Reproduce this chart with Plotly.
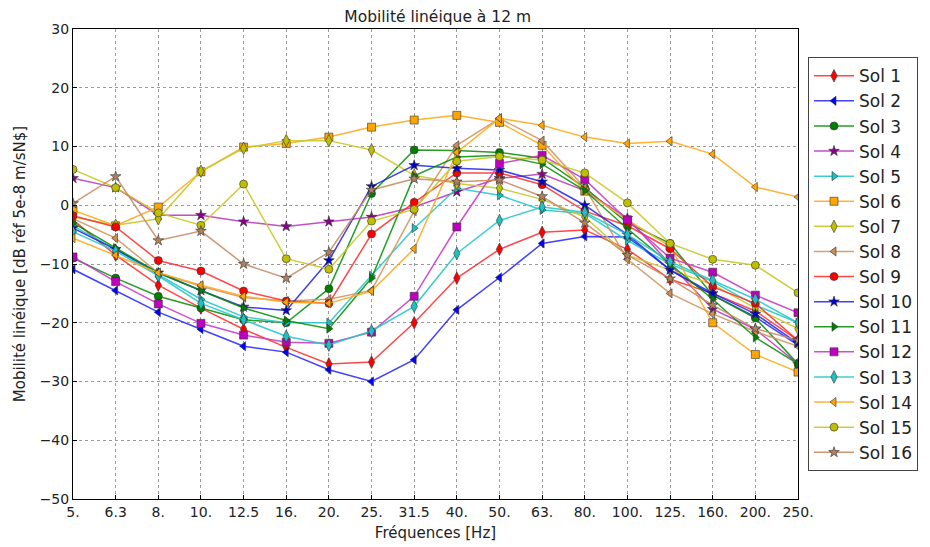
import plotly.graph_objects as go

freq_labels = ["5.", "6.3", "8.", "10.", "12.5", "16.", "20.", "25.", "31.5", "40.", "50.",
               "63.", "80.", "100.", "125.", "160.", "200.", "250."]

sol1 = [-2.5, -8.5, -13.6, -17.5, -21.1, -24.2, -27, -26.7, -20, -12.4, -7.5, -4.6, -4.2, -7.5, -12.6, -15, -18, -23]
sol2 = [-10.9, -14.5, -18.2, -21.1, -24, -25, -28, -30, -26.3, -17.8, -12.3, -6.5, -5.3, -5.4, -11, -15.3, -19, -23.8]
sol3 = [-9, -12.4, -15.5, -17.5, -19.5, -20, -14.2, 2, 9.4, 9.3, 9, 8, 3, -3, -6.5, -15.3, -19.2, -27]
sol4 = [4.6, 3, -1.7, -1.7, -2.8, -3.6, -2.8, -2, -0.3, 2.3, 4.6, 5.3, 2.5, -2.2, -10, -17.7, -21.1, -27]
sol5 = [-3.5, -7.5, -11.8, -16, -19, -20, -20, -12, -3.9, 2.9, 1.7, -0.8, -1.4, -6, -10, -13, -17, -20]
sol6 = [-0.85, -3.5, -0.3, 5.7, 9.9, 10.5, 11.6, 13.3, 14.5, 15.3, 14.1, 10.2, 2.4, -2.5, -7, -20, -25.4, -28.4]
sol7 = [-2, -3.4, -2.3, 5.8, 9.7, 11, 11, 9.4, 5.1, 3.7, 2.9, 1, -2, -8.5, -11, -13.5, -17.5, -21]
sol8 = [-2.3, -5.6, -11.5, -13.8, -15.7, -16.3, -16, -14.5, -1, 10.2, 14.8, 11, 3, -9.2, -15, -18.5, -21.5, -24]
sol9 = [-1.8, -3.7, -9.4, -11.2, -14.6, -16.3, -16.7, -4.9, 0.5, 5.5, 5.5, 3.5, -1, -3.5, -7.4, -13.9, -16.7, -23]
sol10 = [-3.9, -7.5, -11.5, -14.5, -17.3, -17.9, -9.4, 3.2, 6.8, 6.3, 6, 4, 0, -5, -11, -15, -18.5, -23.5]
sol11 = [-3, -7.3, -11.5, -14.5, -17.5, -19.6, -21, -12.4, 5, 8.2, 8.5, 7, 2.5, -4, -10, -16, -22.5, -27]
sol12 = [-8.8, -13, -16.8, -20.1, -22.1, -23.3, -23.5, -21.6, -15.5, -3.7, 7.1, 8.5, 4.4, -2.5, -9, -11.4, -15.3, -18.3]
sol13 = [-4.5, -7.8, -12, -16.7, -19.5, -22.3, -23.8, -21.4, -17.2, -8.2, -2.6, -0.3, -1.2, -5, -9.6, -12.8, -16, -20]
sol14 = [-5.6, -8.5, -11.5, -13.6, -15.5, -16.5, -16.7, -14.6, -7.4, 9, 14.8, 13.6, 11.6, 10.5, 10.9, 8.7, 3.1, 1.4]
sol15 = [6.1, 3, -1.3, -3.4, 3.6, -9.1, -10.9, -2.7, -0.7, 7.5, 8.3, 7.7, 5.5, 0.4, -6.5, -9.2, -10.2, -14.9]
sol16 = [0.3, 4.9, -6, -4.4, -10, -12.4, -8, 2.6, 4.5, 4, 4.3, 1.5, -3, -8.5, -12.5, -17, -21, -23]

series = [sol1, sol2, sol3, sol4, sol5, sol6, sol7, sol8,
          sol9, sol10, sol11, sol12, sol13, sol14, sol15, sol16]
names = ["Sol %d" % (i + 1) for i in range(16)]

styles = [
    ("#ff0000", "rgba(255,40,40,0.85)", "diamond-tall", 9),
    ("#0000ff", "rgba(30,30,255,0.85)", "triangle-left", 8),
    ("#007f00", "rgba(0,140,0,0.85)", "circle", 8),
    ("#8b008b", "rgba(190,60,190,0.9)", "star", 8),
    ("#20c0c0", "rgba(40,200,200,0.9)", "triangle-right", 8),
    ("#ffa500", "rgba(255,170,30,0.9)", "square", 8),
    ("#bfbf00", "rgba(200,200,40,0.9)", "diamond-tall", 9),
    ("#cd8c52", "rgba(210,150,100,0.9)", "triangle-left", 8),
    ("#ff0000", "rgba(255,40,40,0.85)", "circle", 8),
    ("#0000cc", "rgba(30,30,230,0.85)", "star", 8),
    ("#007f00", "rgba(0,140,0,0.85)", "triangle-right", 8),
    ("#bf00bf", "rgba(200,60,200,0.9)", "square", 8),
    ("#20c0c0", "rgba(40,200,200,0.9)", "diamond-tall", 9),
    ("#ffa500", "rgba(255,170,30,0.9)", "triangle-left", 8),
    ("#bfbf00", "rgba(200,200,40,0.9)", "circle", 8),
    ("#b08060", "rgba(200,140,100,0.9)", "star", 8),
]

fig = go.Figure()
for name, ys, (mc, lc, sym, sz) in zip(names, series, styles):
    fig.add_trace(go.Scatter(
        x=list(range(len(freq_labels))), y=ys, name=name, mode="lines+markers",
        line=dict(color=lc, width=1.5),
        marker=dict(symbol=sym, size=sz, color=mc, line=dict(color="#333333", width=0.6)),
    ))

fig.update_layout(
    width=930, height=547,
    margin=dict(l=65, r=140, t=21, b=56),
    paper_bgcolor="white", plot_bgcolor="white",
    font=dict(family="DejaVu Sans", size=14, color="#222222"),
    title=dict(text="Mobilité linéique à 12 m", x=0.462, xanchor="center",
               y=1.0, yanchor="top", pad=dict(t=3), font=dict(size=15.5)),
    legend=dict(x=1.0138, xanchor="left", y=0.94, yanchor="top",
                bordercolor="#444444", borderwidth=1, bgcolor="white",
                font=dict(size=17), itemwidth=40, tracegroupgap=0),
    showlegend=True,
)
fig.update_xaxes(
    range=[0, 17], tickmode="array", tickvals=list(range(len(freq_labels))),
    ticktext=freq_labels, showgrid=True, gridcolor="#9a9a9a", griddash="dot", gridwidth=1,
    showline=True, linecolor="black", linewidth=1, mirror=True, ticks="inside",
    ticklen=4, tickcolor="black", zeroline=False,
    title=dict(text="Fréquences [Hz]", font=dict(size=15), standoff=8),
)
fig.update_yaxes(
    range=[-50, 30], tickvals=[-50, -40, -30, -20, -10, 0, 10, 20, 30],
    showgrid=True, gridcolor="#9a9a9a", griddash="dot", gridwidth=1,
    showline=True, linecolor="black", linewidth=1, mirror=True, ticks="inside",
    ticklen=4, tickcolor="black", zeroline=False,
    title=dict(text="Mobilité linéique [dB réf 5e-8 m/sN$]", font=dict(size=15), standoff=10),
)
fig.write_html("out.html")
